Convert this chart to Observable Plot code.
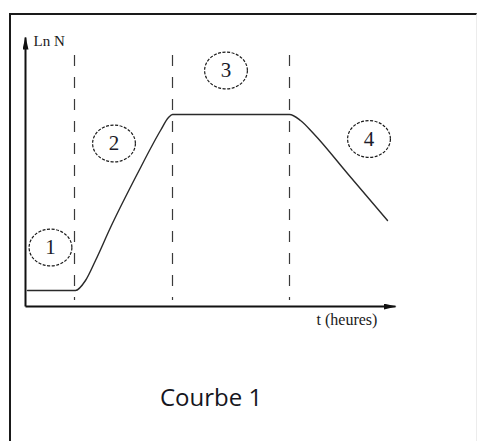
<!DOCTYPE html>
<html>
<head>
<meta charset="utf-8">
<script src="https://cdn.jsdelivr.net/npm/d3@7"></script>
<script src="https://cdn.jsdelivr.net/npm/@observablehq/plot@0.6"></script>
<style>
  html, body { margin: 0; padding: 0; background: #fff; }
  #page { position: relative; width: 479px; height: 441px; overflow: hidden; background: #fff; }
  #frame { position: absolute; left: 9px; top: 13px; width: 468px; height: 440px;
           border-top: 2px solid #1a1a1a; border-left: 2px solid #1a1a1a; border-right: 1px solid #ececec; box-sizing: border-box; }
  #chart { position: absolute; left: 0; top: 0; }
  #caption { position: absolute; left: 160px; top: 381px; font-family: "Open Sans", sans-serif; font-size: 24px;
             line-height: 1.362; color: #151520; white-space: nowrap; }
</style>
</head>
<body>
<div id="page">
  <div id="frame"></div>
  <div id="chart"></div>
  <div id="caption">Courbe 1</div>
</div>
<script>
// Growth curve (schematic): time in hours (arbitrary units) vs Ln N
const curveT   = [0.2, 5.0, 6.0, 7.0, 8.5, 11.2, 13.5, 14.3, 14.7, 26.4, 27.5, 28.8, 32.2, 36.2];
const curveLnN = [1.6, 1.6, 2.6, 4.6, 7.9, 13.3, 17.6, 18.9, 19.2, 19.2, 18.6, 17.3, 13.3, 8.6];

// Phase boundaries (dashed verticals)
const phaseT = [4.9, 14.7, 26.4];
const phaseTop = 25.1;
const phaseBottom = 0.6;

// Phase labels (circled numbers)
const phaseLabels = ["1", "2", "3", "4"];
const labelT   = [2.5, 8.85, 20.05, 34.35];
const labelLnN = [5.9, 16.3, 23.6, 16.75];

// Axes extents
const tMax = 37;
const lnNMax = 26.9;
const yAxisTitle = "Ln N";
const xAxisTitle = "t (heures)";
const yTitlePos = {t: 0.8, lnN: 26.1};
const xTitlePos = {t: 29.1, lnN: -1.8};

const curve = curveT.map((t, i) => ({t, lnN: curveLnN[i]}));
const labels = phaseLabels.map((s, i) => ({s, t: labelT[i], lnN: labelLnN[i]}));
const axes = [
  {x1: 0, y1: 0, x2: 0, y2: lnNMax},
  {x1: 0, y1: 0, x2: tMax, y2: 0}
];

const ellipse = {
  draw(context, size) {
    const r = Math.sqrt(size / Math.PI);
    const rx = r * 1.07, ry = r * 0.92, k = 0.5523;
    context.moveTo(rx, 0);
    context.bezierCurveTo(rx, k * ry, k * rx, ry, 0, ry);
    context.bezierCurveTo(-k * rx, ry, -rx, k * ry, -rx, 0);
    context.bezierCurveTo(-rx, -k * ry, -k * rx, -ry, 0, -ry);
    context.bezierCurveTo(k * rx, -ry, rx, -k * ry, rx, 0);
    context.closePath();
  }
};

const plot = Plot.plot({
  width: 479,
  height: 350,
  marginLeft: 25,
  marginRight: 84,
  marginTop: 37,
  marginBottom: 44,
  x: {domain: [0, tMax], axis: null},
  y: {domain: [0, lnNMax], axis: null},
  style: {background: "transparent", overflow: "visible"},
  marks: [
    Plot.ruleX(phaseT, {x: d => d, y1: phaseTop, y2: phaseBottom, stroke: "#3a3a3a", strokeWidth: 1.2, strokeDasharray: "11,11"}),
    Plot.link(axes, {x1: "x1", y1: "y1", x2: "x2", y2: "y2", stroke: "#111", strokeWidth: 2}),
    Plot.line(curve, {x: "t", y: "lnN", stroke: "#2a2a2a", strokeWidth: 1.4, curve: "monotone-x"}),
    Plot.dot(labels, {x: "t", y: "lnN", r: 20, symbol: ellipse, fill: "none", stroke: "#1a1a1a", strokeWidth: 1.2, strokeDasharray: "3,1.5"}),
    Plot.text(labels, {x: "t", y: "lnN", text: "s", fontFamily: "Liberation Serif", fontSize: 21, fill: "#1c1c2a", lineAnchor: "middle"}),
    Plot.text([yAxisTitle], {x: yTitlePos.t, y: yTitlePos.lnN, text: d => d, textAnchor: "start", lineAnchor: "bottom", fontFamily: "Liberation Serif", fontSize: 15, fill: "#1a1a1a"}),
    Plot.text([xAxisTitle], {x: xTitlePos.t, y: xTitlePos.lnN, text: d => d, textAnchor: "start", lineAnchor: "bottom", fontFamily: "Liberation Serif", fontSize: 16, fill: "#1a1a1a"})
  ]
});

// filled arrowheads on the axes
const svg = d3.select(plot);
svg.insert("defs", ":first-child")
  .append("marker")
  .attr("id", "ah")
  .attr("viewBox", "0 0 13 6")
  .attr("refX", 12)
  .attr("refY", 3)
  .attr("markerWidth", 13)
  .attr("markerHeight", 6)
  .attr("markerUnits", "userSpaceOnUse")
  .attr("orient", "auto")
  .append("path")
  .attr("d", "M0,0L13,3L0,6Z")
  .attr("fill", "#111");
svg.selectAll("g[aria-label=link] path").attr("marker-end", "url(#ah)");

document.getElementById("chart").appendChild(plot);
</script>
</body>
</html>
